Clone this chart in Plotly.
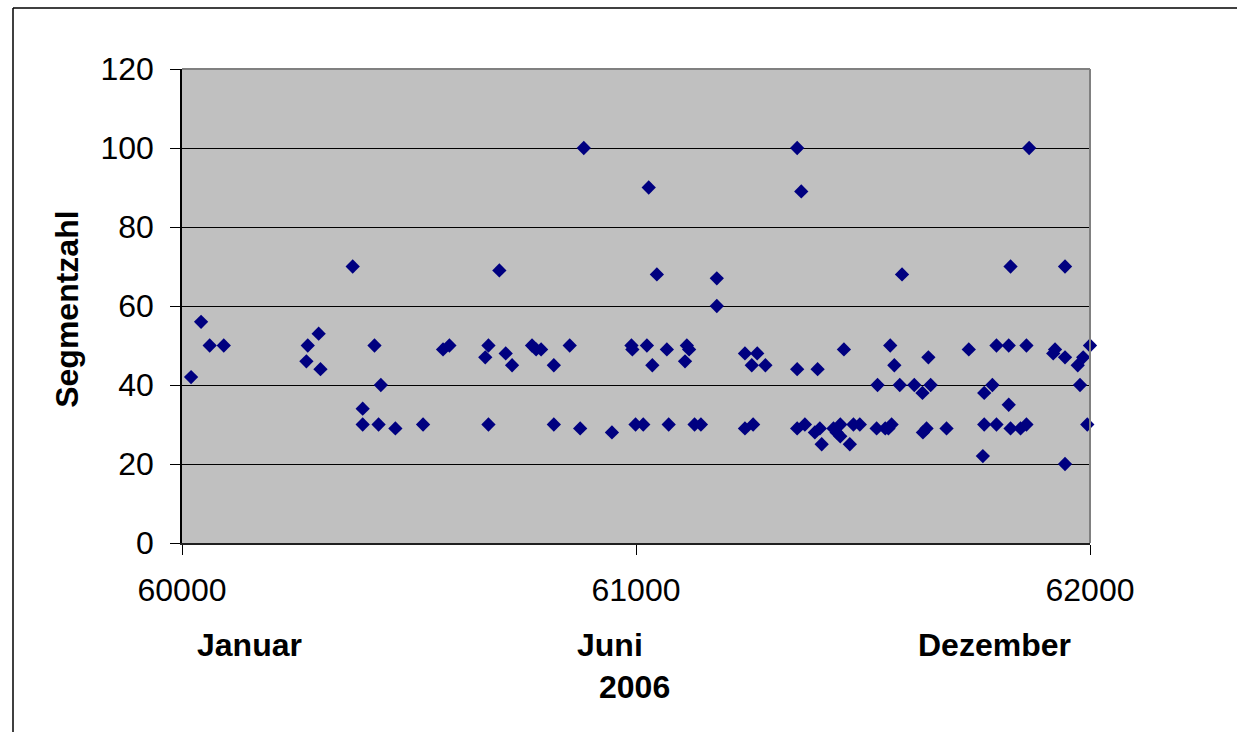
import plotly.graph_objects as go

# Data
day_index = [
    60020, 60042, 60061, 60092, 60274, 60277, 60301, 60305, 60376, 60398,
    60398, 60424, 60433, 60438, 60470, 60531, 60575, 60589, 60668, 60675,
    60675, 60699, 60713, 60727, 60771, 60780, 60791, 60819, 60819, 60854,
    60877, 60885, 60947, 60990, 60992, 60999, 61016, 61024, 61028, 61036,
    61046, 61068, 61072, 61108, 61112, 61117, 61129, 61143, 61178, 61178,
    61240, 61267, 61255, 61285, 61240, 61258, 61355, 61364, 61355, 61355,
    61372, 61394, 61400, 61405, 61409, 61435, 61442, 61450, 61450, 61458,
    61471, 61479, 61493, 61530, 61532, 61549, 61556, 61563, 61560, 61569,
    61581, 61586, 61613, 61631, 61632, 61640, 61644, 61649, 61684, 61733,
    61764, 61767, 61767, 61785, 61794, 61794, 61821, 61821, 61825, 61825,
    61847, 61860, 61860, 61866, 61919, 61923, 61945, 61945, 61945, 61973,
    61978, 61985, 62000, 61994,
]
segmentzahl = [
    42, 56, 50, 50, 46, 50, 53, 44, 70, 34,
    30, 50, 30, 40, 29, 30, 49, 50, 47, 50,
    30, 69, 48, 45, 50, 49, 49, 45, 30, 50,
    29, 100, 28, 50, 49, 30, 30, 50, 90, 45,
    68, 49, 30, 46, 50, 49, 30, 30, 67, 60,
    48, 48, 45, 45, 29, 30, 100, 89, 44, 29,
    30, 28, 44, 29, 25, 29, 28, 30, 27, 49,
    25, 30, 30, 29, 40, 29, 29, 30, 50, 45,
    40, 68, 40, 38, 28, 29, 47, 40, 29, 49,
    22, 30, 38, 40, 50, 30, 35, 50, 70, 29,
    29, 30, 50, 100, 48, 49, 47, 70, 20, 45,
    40, 47, 50, 30,
]
x_ticks = [60000, 61000, 62000]
y_ticks = [0, 20, 40, 60, 80, 100, 120]
month_labels = ["Januar", "Juni", "Dezember"]
month_pos = [0.074, 0.471, 0.895]
year_label = "2006"
y_title = "Segmentzahl"

FONT = "Liberation Sans, Arial, sans-serif"

fig = go.Figure()
fig.add_trace(go.Scatter(
    x=day_index, y=segmentzahl, mode="markers",
    marker=dict(symbol="diamond", size=11, color="#000080",
                line=dict(width=0)),
    cliponaxis=False, showlegend=False,
))

fig.update_layout(
    width=1237, height=732,
    margin=dict(l=182, r=147, t=69, b=189),
    paper_bgcolor="white",
    plot_bgcolor="#C0C0C0",
    font=dict(family=FONT, color="black"),
    xaxis=dict(
        range=[60000, 62000], tickvals=x_ticks,
        ticktext=[str(v) for v in x_ticks],
        showgrid=False, zeroline=False,
        showline=True, linecolor="#202020", linewidth=2,
        ticks="outside", ticklen=10, tickcolor="black", tickwidth=1,
        tickfont=dict(size=32, family=FONT, color="black"),
        ticklabelstandoff=8,
    ),
    yaxis=dict(
        range=[0, 120], tickvals=y_ticks,
        showgrid=True, gridcolor="black", gridwidth=1,
        zeroline=False,
        showline=True, linecolor="black", linewidth=1.5,
        ticks="outside", ticklen=10, tickcolor="black", tickwidth=1,
        tickfont=dict(size=32, family=FONT, color="black"),
        ticklabelstandoff=10,
    ),
)

# plot-area top and right border (gray)
fig.add_shape(type="line", xref="paper", yref="paper", x0=0, x1=1, y0=1, y1=1,
              line=dict(color="#808080", width=2))
fig.add_shape(type="line", xref="paper", yref="paper", x0=1, x1=1, y0=0, y1=1,
              line=dict(color="#808080", width=2))

# outer chart frame (left and top edges visible)
fig.add_shape(type="line", xref="paper", yref="paper",
              x0=-169/908, x1=1.2, y0=1 + 61/474.3, y1=1 + 61/474.3,
              line=dict(color="black", width=1.5))
fig.add_shape(type="line", xref="paper", yref="paper",
              x0=-169/908, x1=-169/908, y0=-0.5, y1=1 + 61/474.3,
              line=dict(color="black", width=1.5))

for lab, pos in zip(month_labels, month_pos):
    fig.add_annotation(text=f"<b>{lab}</b>", xref="paper", yref="paper",
                       x=pos, y=0, yanchor="middle", xanchor="center",
                       yshift=-102, showarrow=False,
                       font=dict(size=32, family=FONT, color="black"))
fig.add_annotation(text=f"<b>{year_label}</b>", xref="paper", yref="paper",
                   x=0.498, y=0, yanchor="middle", xanchor="center",
                   yshift=-144, showarrow=False,
                   font=dict(size=32, family=FONT, color="black"))
fig.add_annotation(text=f"<b>{y_title}</b>", xref="paper", yref="paper",
                   x=0, y=0.492, xanchor="center", yanchor="middle",
                   xshift=-115, textangle=-90, showarrow=False,
                   font=dict(size=32, family=FONT, color="black"))

fig.write_html("out.html")
